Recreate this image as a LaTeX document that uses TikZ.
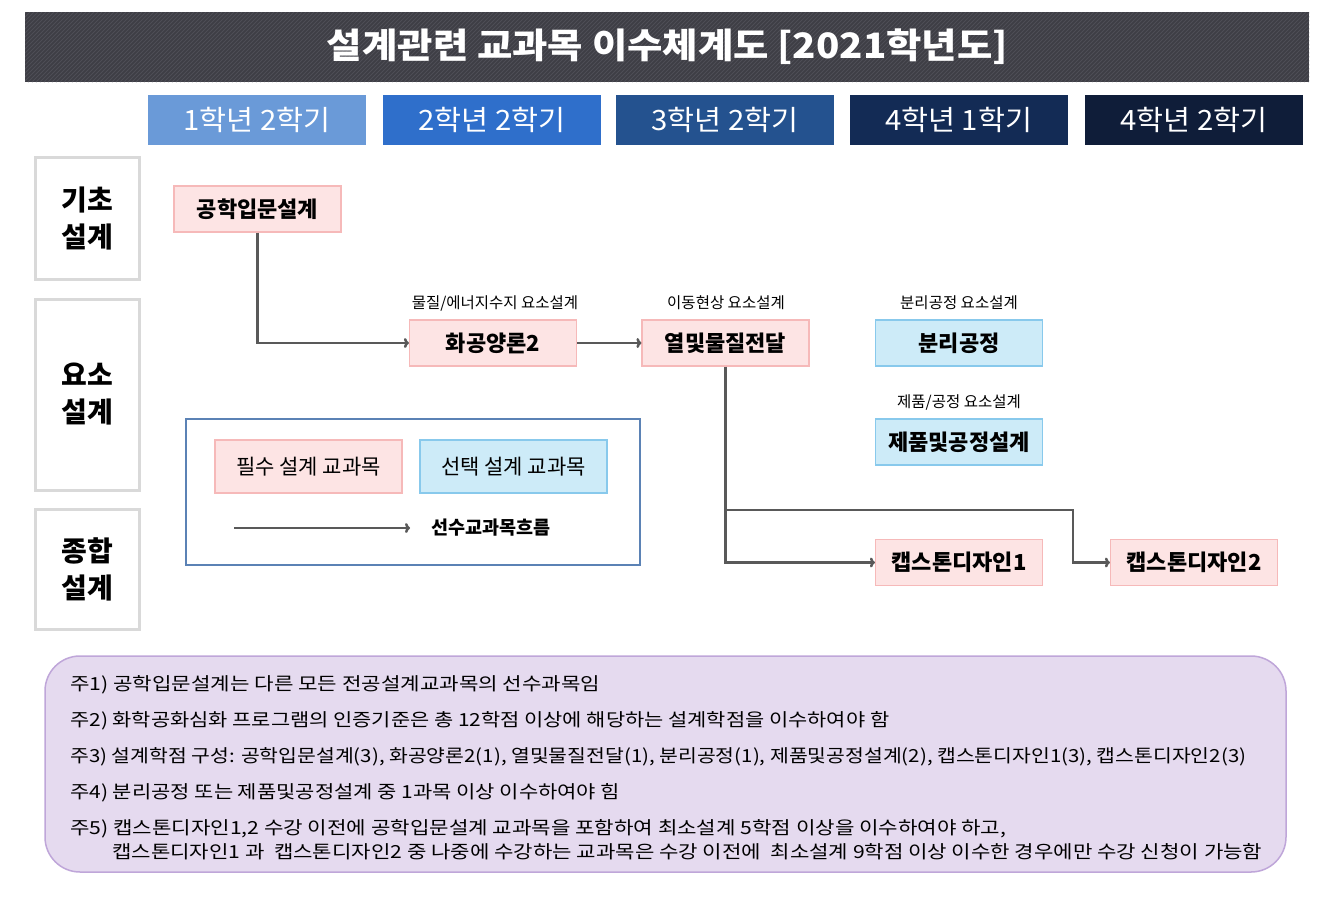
\documentclass[tikz,border=0pt]{standalone}
\usepackage{fontspec}
\usepackage{graphicx}
\setmainfont{Noto Sans CJK KR}
\usetikzlibrary{arrows.meta}
\definecolor{titlebg}{HTML}{3E3E45}
\definecolor{titlehatch}{HTML}{4E4E56}
\definecolor{semA}{HTML}{6A9AD8}
\definecolor{semB}{HTML}{2F6FCB}
\definecolor{semC}{HTML}{24528F}
\definecolor{semD}{HTML}{132B55}
\definecolor{semE}{HTML}{0F1D39}
\definecolor{reqfill}{HTML}{FDE4E4}
\definecolor{reqline}{HTML}{F6B9B9}
\definecolor{optfill}{HTML}{CDEBF8}
\definecolor{optline}{HTML}{88C9EC}
\definecolor{catline}{HTML}{D9D9D9}
\definecolor{flowc}{HTML}{595959}
\definecolor{legline}{HTML}{5B82B5}
\definecolor{notefill}{HTML}{E5DAEF}
\definecolor{noteline}{HTML}{BFA6D9}
\newcommand{\fitw}[2]{\resizebox{#1pt}{\height}{#2}}
\tikzset{
  semnode/.style={minimum width=218pt, minimum height=50pt, inner sep=0pt, text=white, font=\fontsize{28}{30}\selectfont},
  catnode/.style={draw=catline, fill=white, line width=3pt, minimum width=104pt, inner sep=0pt, align=center, font=\fontsize{28}{37}\selectfont\bfseries},
  reqnode/.style={draw=reqline, fill=reqfill, line width=1.2pt, minimum width=167pt, minimum height=46pt, inner sep=0pt, font=\fontsize{22}{24}\selectfont\bfseries},
  optnode/.style={draw=optline, fill=optfill, line width=1.2pt, minimum width=167pt, minimum height=46pt, inner sep=0pt, font=\fontsize{22}{24}\selectfont\bfseries},
  smalllabel/.style={inner sep=0pt, font=\fontsize{15.5}{17}\selectfont},
  flow/.style={draw=flowc, line width=2.5pt, -{To[length=5pt,width=10pt]}},
  noteline/.style={anchor=west, inner sep=0pt, font=\fontsize{18}{20}\selectfont},
}
\begin{document}
\begin{tikzpicture}[x=1pt, y=-1pt]
\useasboundingbox (0,0) rectangle (1339,900);
\fill[white] (0,0) rectangle (1339,900);
% title bar
\begin{scope}
\clip (25,12) rectangle (1309,82);
\fill[titlebg] (25,12) rectangle (1309,82);
\foreach \i in {-80,-76,...,1320} \draw[titlehatch, line width=1pt] (\i,82) -- ++(70,-70);
\end{scope}
\node[text=white, inner sep=0pt, font=\fontsize{35}{40}\selectfont\bfseries] (title) at (667.5,47) {\fitw{681}{설계관련 교과목 이수체계도 [2021학년도]}};
% semesters
\node[semnode, fill=semA] (s1) at (257,120) {\fitw{147}{1학년 2학기}};
\node[semnode, fill=semB] (s2) at (492,120) {\fitw{147}{2학년 2학기}};
\node[semnode, fill=semC] (s3) at (725,120) {\fitw{147}{3학년 2학기}};
\node[semnode, fill=semD] (s4) at (958.5,120) {\fitw{147}{4학년 1학기}};
\node[semnode, fill=semE] (s5) at (1194,120) {\fitw{147}{4학년 2학기}};
% categories
\node[catnode, minimum height=122pt] (c1) at (87,218) {기초\\설계};
\node[catnode, minimum height=191pt] (c2) at (87,394.5) {요소\\설계};
\node[catnode, minimum height=120pt] (c3) at (87,569) {종합\\설계};
% courses
\node[reqnode] (n1) at (257.5,209) {공학입문설계};
\node[reqnode] (n2) at (493,343) {화공양론2};
\node[reqnode] (n3) at (725.5,343) {열및물질전달};
\node[optnode] (n4) at (959,343) {분리공정};
\node[optnode] (n5) at (959,442) {제품및공정설계};
\node[reqnode] (n6) at (959,562.5) {캡스톤디자인1};
\node[reqnode] (n7) at (1194,562.5) {캡스톤디자인2};
\node[smalllabel] (l2) at (495,303) {물질/에너지수지 요소설계};
\node[smalllabel] (l3) at (726,303) {이동현상 요소설계};
\node[smalllabel] (l4) at (959,303) {분리공정 요소설계};
\node[smalllabel] (l5) at (959,402) {제품/공정 요소설계};
% flows
\draw[flow] (n1.south) |- (n2.west);
\draw[flow] (n2.east) -- (n3.west);
\draw[flow] (n3.south) |- (n6.west);
\coordinate (br) at (n3.south |- 0,510);
\coordinate (bt) at (1073,510);
\draw[flow] (br) -- (bt) |- (n7.west);
% legend
\node[draw=legline, line width=1.5pt, minimum width=454pt, minimum height=146pt, inner sep=0pt] (leg) at (413,492) {};
\node[reqnode, minimum width=187pt, minimum height=53pt, font=\fontsize{21}{24}\selectfont] (lr) at (308.5,466.5) {필수 설계 교과목};
\node[optnode, minimum width=187pt, minimum height=53pt, font=\fontsize{21}{24}\selectfont] (lo) at (513.5,466.5) {선택 설계 교과목};
\coordinate (la) at (234,528);
\coordinate (lb) at (410,528);
\draw[flow] (la) -- (lb);
\node[inner sep=0pt, font=\fontsize{18.5}{20}\selectfont\bfseries] (lt) at (491,528) {선수교과목흐름};
% notes
\node[draw=noteline, fill=notefill, line width=1.5pt, rounded corners=35pt, minimum width=1241pt, minimum height=216pt, inner sep=0pt] (notes) at (665.5,764) {};
\node[noteline] (t1) at (70,685) {\fitw{530}{주1) 공학입문설계는 다른 모든 전공설계교과목의 선수과목임}};
\node[noteline] (t2) at (70,721) {\fitw{819}{주2) 화학공화심화 프로그램의 인증기준은 총 12학점 이상에 해당하는 설계학점을 이수하여야 함}};
\node[noteline] (t3) at (70,757) {\fitw{1176}{주3) 설계학점 구성: 공학입문설계(3), 화공양론2(1), 열및물질전달(1), 분리공정(1), 제품및공정설계(2), 캡스톤디자인1(3), 캡스톤디자인2(3)}};
\node[noteline] (t4) at (70,793) {\fitw{550}{주4) 분리공정 또는 제품및공정설계 중 1과목 이상 이수하여야 힘}};
\node[noteline] (t5) at (70,829) {\fitw{936}{주5) 캡스톤디자인1,2 수강 이전에 공학입문설계 교과목을 포함하여 최소설계 5학점 이상을 이수하여야 하고,}};
\node[noteline] (t6) at (112,852) {\fitw{1150}{캡스톤디자인1 과 \ 캡스톤디자인2 중 나중에 수강하는 교과목은 수강 이전에 \ 최소설계 9학점 이상 이수한 경우에만 수강 신청이 가능함}};
\end{tikzpicture}
\end{document}
